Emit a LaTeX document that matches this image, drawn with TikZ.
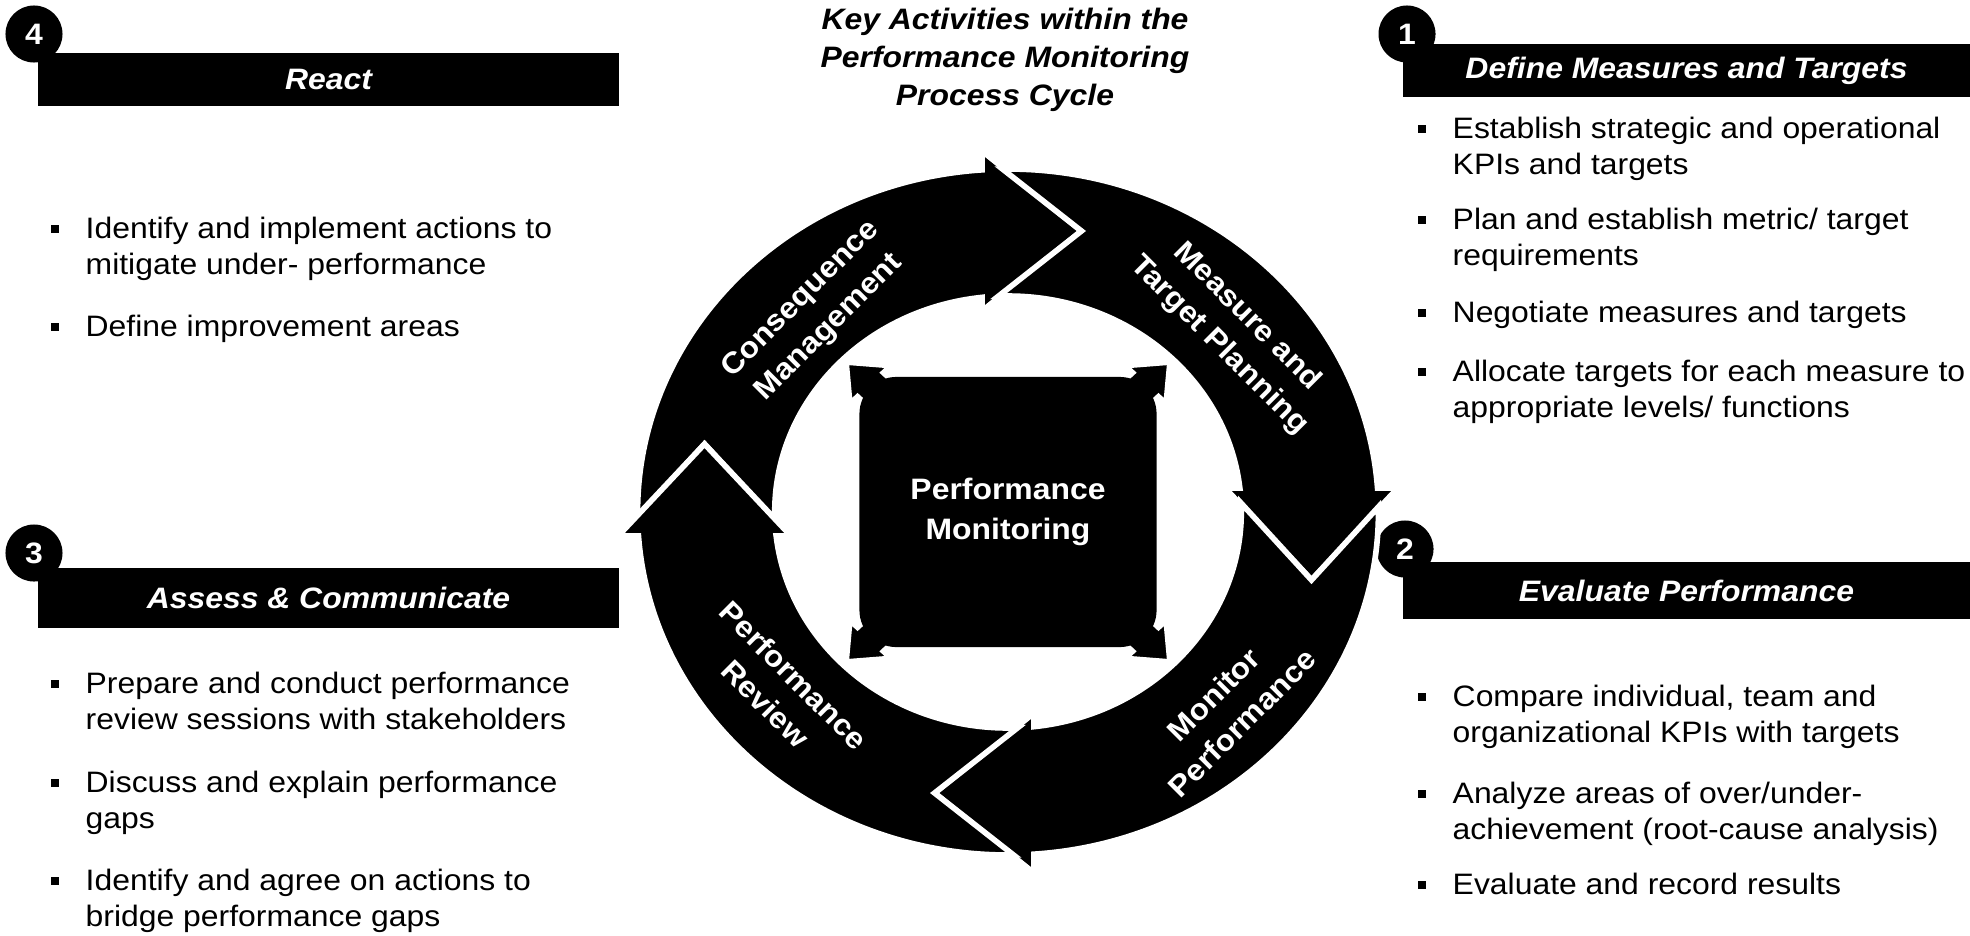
\documentclass[tikz,border=0pt]{standalone}
\usepackage{fontspec}
\setmainfont{Liberation Sans}[FakeStretch=1.08]
% small square bullet hung left of the item text
\newcommand\blt{\llap{\rule[1.6pt]{2.3pt}{2.3pt}\hspace{0.27cm}}}
\tikzset{
	headline/.style={anchor=north, align=center, inner sep=0, font=\fontsize{8.4}{10.9}\selectfont\bfseries\itshape},
	headbar/.style={fill=black, text=white, inner sep=0, font=\bfseries\itshape},
	numdot/.style={circle, fill=black, text=white, inner sep=0, minimum size=0.57cm, font=\bfseries},
	bullets/.style={anchor=north west, align=left, inner sep=0},
	cyclearrow/.style={fill=black, draw=white, line width=1.6pt},
	arrowtext/.style={text=white, align=center, inner sep=0, font=\fontsize{8.4}{11.4}\selectfont\bfseries},
	hubbox/.style={fill=black, text=white, rounded corners=0.37cm, minimum width=2.97cm, minimum height=2.70cm, align=center, inner sep=0, font=\fontsize{8.4}{11.4}\selectfont\bfseries}
}
\begin{document}
\fontsize{8.4}{10.2}\selectfont
\begin{tikzpicture}[x=0.01cm, y=0.01cm]
	\useasboundingbox (0,0) rectangle (1970,935);
	% the title
	\node[headline] (title) at (1005,928) {Key Activities within the\\Performance Monitoring\\Process Cycle};
	% the four headers
	\node[headbar, minimum width=5.81cm, minimum height=0.53cm] (react) at (328.5,855.5) {React};
	\node[headbar, minimum width=5.67cm, minimum height=0.53cm] (define) at (1686.5,864.5) {Define Measures and Targets};
	\node[headbar, minimum width=5.67cm, minimum height=0.57cm] (evaluate) at (1686.5,344.5) {Evaluate Performance};
	\node[headbar, minimum width=5.81cm, minimum height=0.60cm] (assess) at (328.5,337) {Assess \& Communicate};
	% the numbers
	\node[numdot] (n1) at (1407,901) {1};
	\node[numdot] (n2) at (1405,386) {2};
	\node[numdot] (n3) at (34,382) {3};
	\node[numdot] (n4) at (34,901) {4};
	% bullets of 1
	\node[bullets] (b11) at (1452,818.5) {\blt Establish strategic and operational\\KPIs and targets};
	\node[bullets] (b12) at (1452,727.5) {\blt Plan and establish metric/ target\\requirements};
	\node[bullets] (b13) at (1452,634.5) {\blt Negotiate measures and targets};
	\node[bullets] (b14) at (1452,575.5) {\blt Allocate targets for each measure to\\appropriate levels/ functions};
	% bullets of 2
	\node[bullets] (b21) at (1452,250.5) {\blt Compare individual, team and\\organizational KPIs with targets};
	\node[bullets] (b22) at (1452,153.5) {\blt Analyze areas of over/under-\\achievement (root-cause analysis)};
	\node[bullets] (b23) at (1452,62.5) {\blt Evaluate and record results};
	% bullets of 3
	\node[bullets] (b31) at (85,263.5) {\blt Prepare and conduct performance\\review sessions with stakeholders};
	\node[bullets] (b32) at (85,164.5) {\blt Discuss and explain performance\\gaps};
	\node[bullets] (b33) at (85,66.5) {\blt Identify and agree on actions to\\bridge performance gaps};
	% bullets of 4
	\node[bullets] (b41) at (85,718.5) {\blt Identify and implement actions to\\mitigate under- performance};
	\node[bullets] (b42) at (85,620.5) {\blt Define improvement areas};
	% the cycle
	\begin{scope}[shift={(1008,423)}, xscale=1.08]
		% four curved arrows, one shape turned by 90 degrees each
		\foreach \r in {0,-90,-180,-270}
			\filldraw[cyclearrow, rotate=\r] (180.85:343) arc[start angle=180.85, end angle=94.01, radius=343]
				-- (-24,361) -- (68,281) -- (-24,201) -- (96.38:216)
				arc[start angle=96.38, end angle=182.36, radius=216] -- (-281,68) -- cycle;
		% labels on the arrows
		\node[arrowtext, rotate=45] (cm) at (132:267) {Consequence\\Management};
		\node[arrowtext, rotate=-45] (mtp) at (41:276) {Measure and\\Target Planning};
		\node[arrowtext, rotate=45] (mp) at (-44:283) {Monitor\\Performance};
		\node[arrowtext, rotate=-45] (pr) at (-140:276) {Performance\\Review};
		% corner arrows of the hub
		\foreach \a in {45,135,225,315}
			\filldraw[cyclearrow, rotate=\a] (212,0) -- (180,27) -- (180,17) -- (140,17) -- (140,-17) -- (180,-17) -- (180,-27) -- cycle;
		% the hub
		\node[hubbox] (hub) at (0,0) {Performance\\Monitoring};
	\end{scope}
\end{tikzpicture}
\end{document}
